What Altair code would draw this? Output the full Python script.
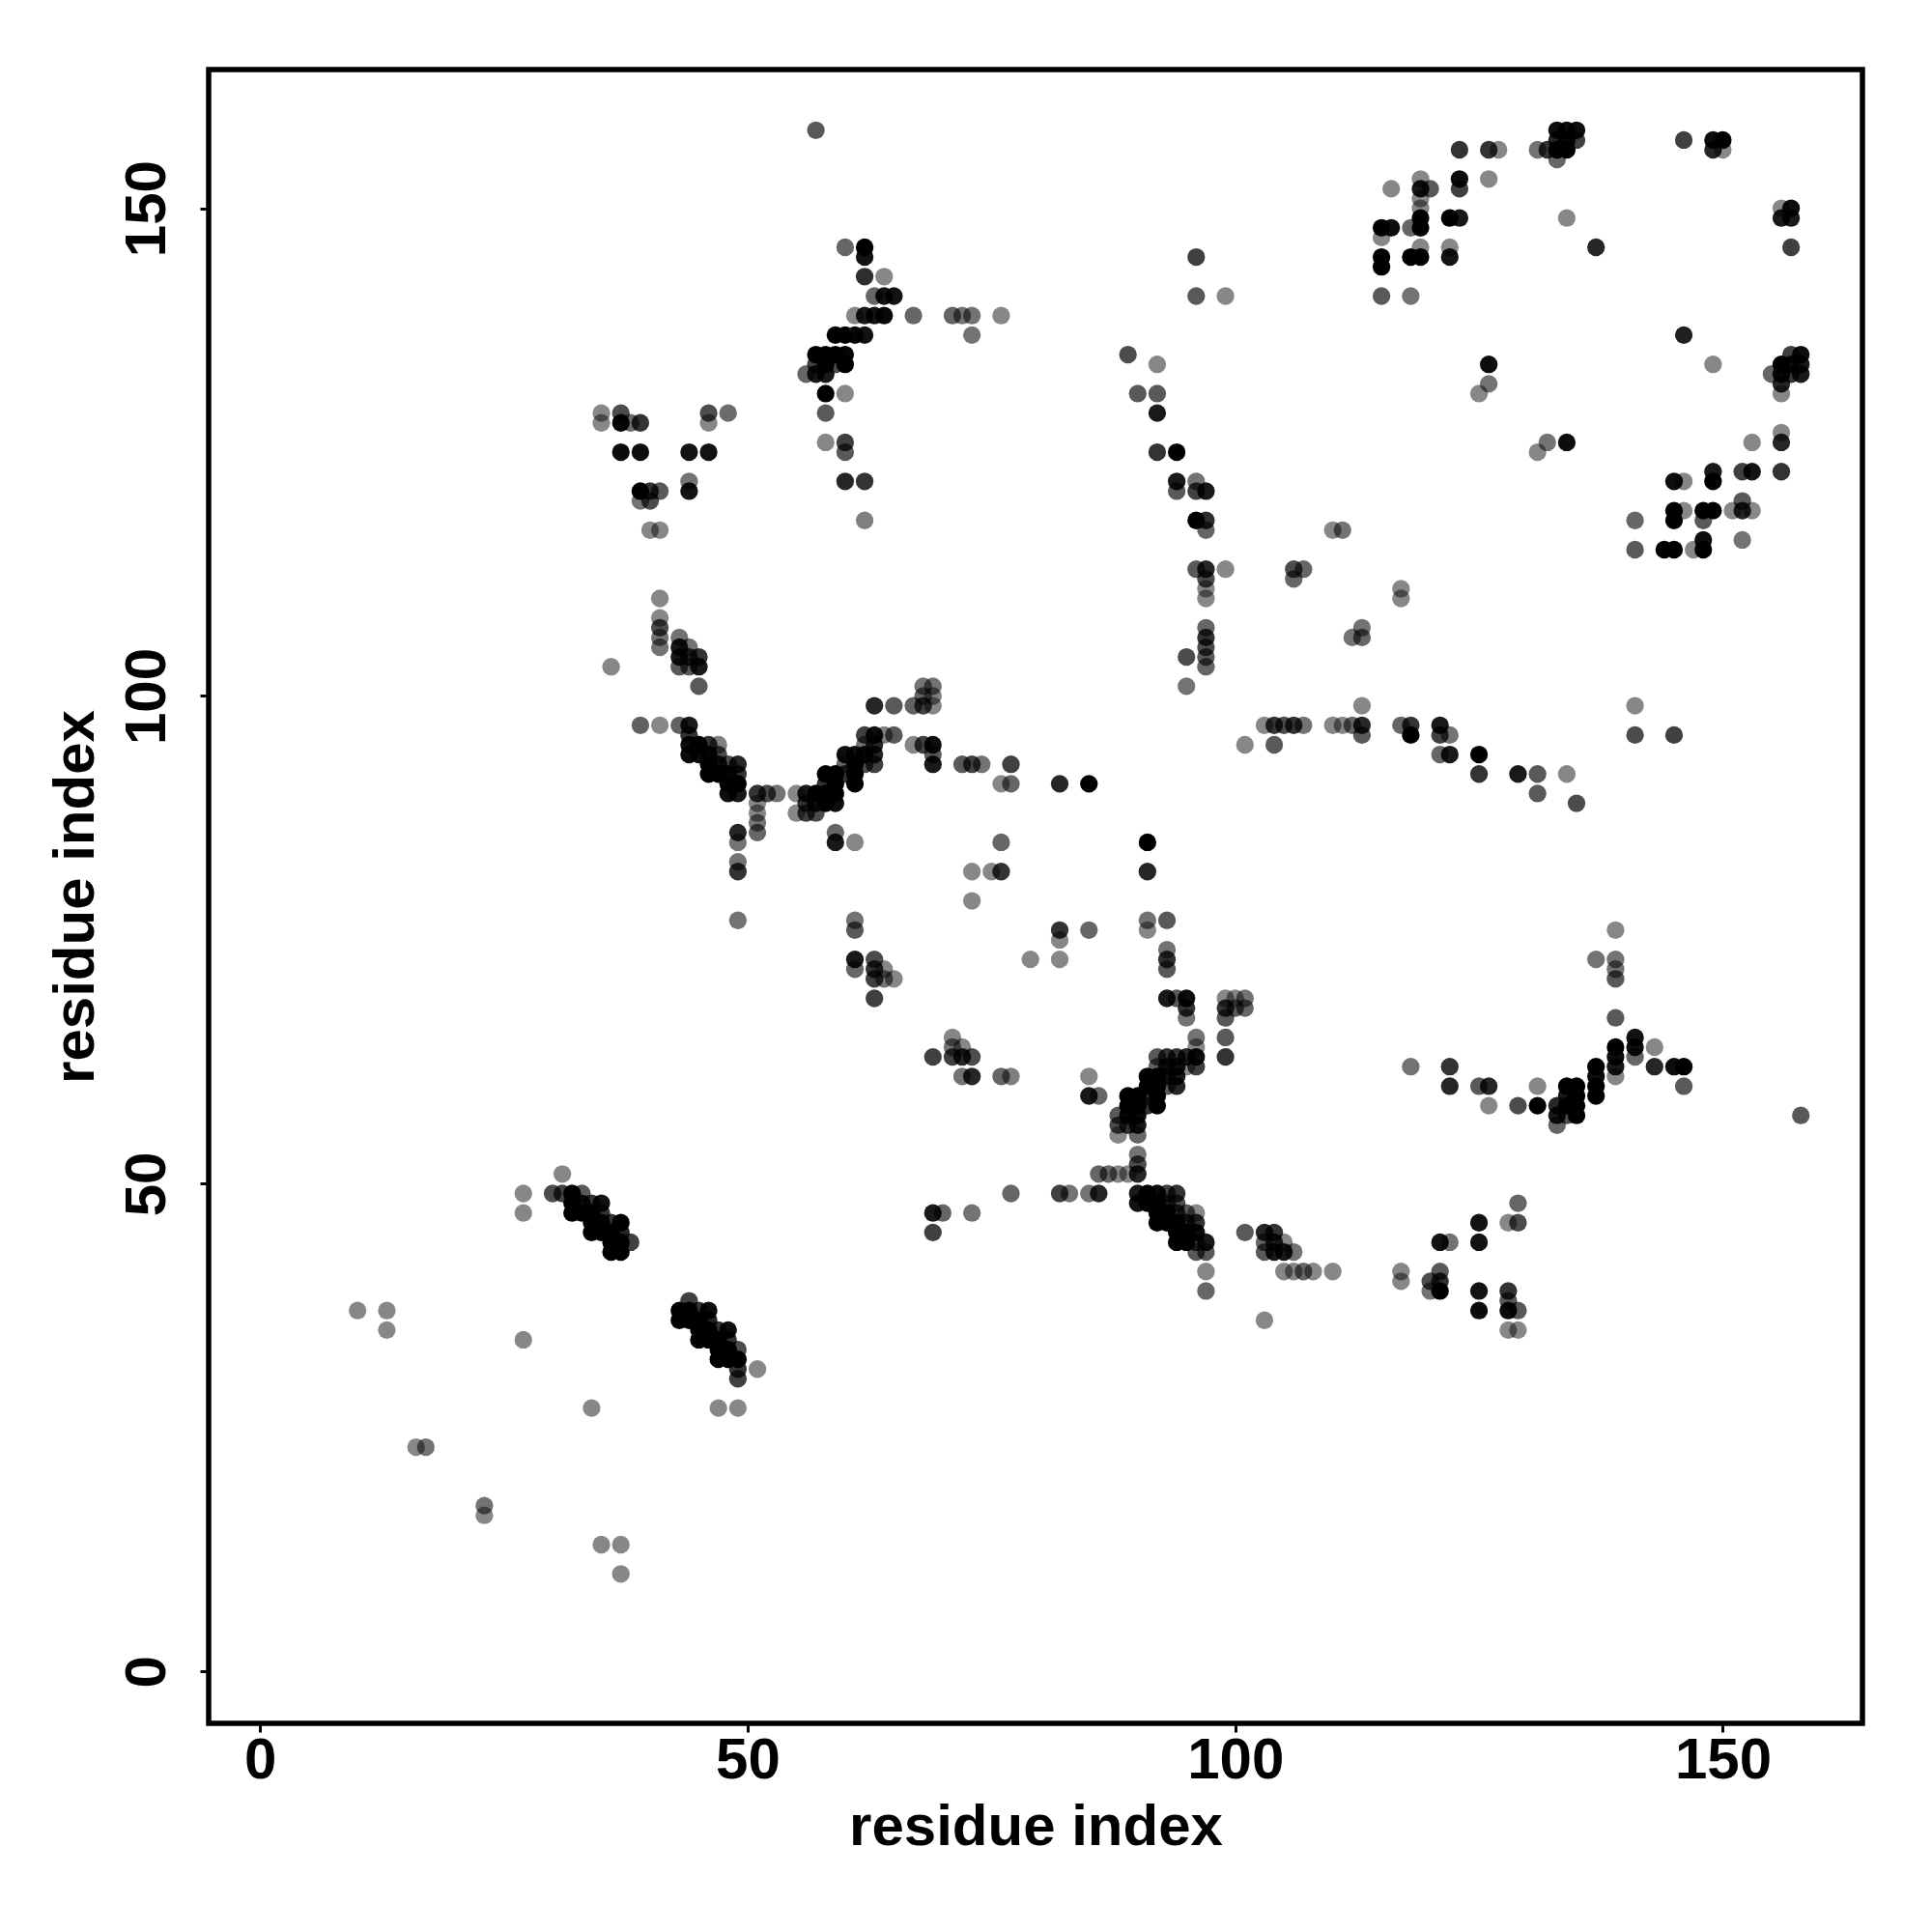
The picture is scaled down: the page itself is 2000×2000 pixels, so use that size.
import altair as alt
import pandas as pd

L = 0.47
top_left = [(35,128,L),(35,129,L),(37,128,.98),(37,129,.7),(38,128,.58),(39,128,.8),(37,125,.96),(39,125,.95),(44,125,.93),(46,125,.93),
            (40,120,.7),(39,120,.55),(39,121,1),(40,121,.8),(41,121,.65),(44,121,.92),(44,122,.55),(40,117,L),(41,117,L),(46,128,L),(46,129,.7),(48,129,.58)]
mid_left_column = [(36,103,L),(41,105,.55),(41,106,.55),(41,107,.7),(41,108,L),(41,110,L),(43,103,.65),(43,104,.9),(43,105,.9),(43,106,.55),
                   (44,103,.65),(44,104,.8),(44,105,.55),(45,103,.9),(45,104,.8),(45,101,.65)]
arm_left = [(39,97,.62),(41,97,L),(43,97,.62),(44,97,.9),(44,96,.8),(44,95,.95),(44,94,.96),(45,95,1),(45,94,.95),(46,94,.95),(46,93,1),(46,92,1),(46,95,.8),
            (47,92,1),(47,93,.9),(47,94,.7),(47,95,.5),(48,90,.95),(48,91,1),(48,92,.95),(48,93,.7),(49,90,.9),(49,91,1),(49,92,.8),(49,93,.85),
            (51,86,.6),(51,87,.55),(51,88,L),(51,89,L),(51,90,.8),(52,90,.7),(53,90,.55),
            (49,85,.55),(49,86,.85),(49,82,.8),(49,83,.55),(49,77,.55)]
arm_right = [(55,88,L),(55,90,L),(56,88,.75),(56,89,.8),(56,90,.9),(57,88,.7),(57,89,.9),(57,90,1),(58,89,1),(58,90,1),(58,91,.8),(58,92,1),
             (59,89,.95),(59,90,1),(59,91,1),(59,92,1),(60,92,.8),(60,93,.6),(60,94,.95),(61,91,1),(61,92,1),(61,93,1),(61,94,.95),
             (62,93,.7),(62,94,.95),(62,95,.55),(62,96,.75),(63,93,.75),(63,94,.85),(63,95,.85),(63,96,.95),(64,96,.5),(65,96,.65),
             (63,99,.85),(65,99,.65),(67,99,.62),(68,99,.75),(68,100,.6),(68,101,.55),(69,99,L),(69,100,.5),(69,101,.55),
             (67,95,L),(68,95,.75),(69,93,.9),(69,94,.65),(69,95,.95),(72,93,.65),(73,93,.75),(74,93,.55),(77,93,.75),(76,91,L),(77,91,.6),
             (59,85,.9),(59,86,.6),(61,85,L),(76,85,.6),(73,82,L),(75,82,L),(76,82,.8),(73,79,L),(61,76,.65),(61,77,.55)]
upper_arc = [(57,158,.65),(60,146,.6),(62,145,.93),(62,146,1),(62,143,.82),(64,143,L),(63,141,.6),(64,141,.93),(65,141,.93),(61,139,L),(62,139,.9),(63,139,.93),(64,139,.97),
             (67,139,.6),(71,139,.6),(72,139,.55),(73,139,.55),(76,139,L),(73,137,.55),(59,137,1),(60,137,1),(61,137,.98),(62,137,.93),
             (56,133,.6),(57,133,.9),(58,133,.9),(57,134,.75),(58,134,1),(59,134,.7),(60,134,1),(57,135,1),(58,135,1),(59,135,1),(60,135,.98),
             (58,131,1),(60,131,L),(58,129,.65),(58,126,L),(60,125,.65),(60,126,.75),(60,122,.85),(62,122,.8),(62,118,.5)]
column_97 = [(96,145,.75),(96,141,.65),(99,141,L),(89,135,.7),(92,134,L),(90,131,.65),(92,131,.65),(92,129,.9),(92,125,.8),(94,125,1),
             (94,121,.65),(94,122,.9),(96,121,.75),(96,122,.55),(97,121,.9),(96,118,1),(97,117,.6),(97,118,.82),(96,113,.65),(97,110,L),(97,111,L),(97,112,.7),(97,113,.85),(99,113,L),
             (97,103,.6),(97,104,.65),(97,105,.7),(97,106,.8),(97,107,.6),(95,104,.7),(95,101,.55)]
horizontal_97 = [(113,99,L),(141,99,L),(103,97,L),(104,97,.8),(105,97,.7),(106,97,.8),(107,97,.55),(110,97,L),(111,97,L),(112,97,.6),(113,96,.65),(113,97,.85),
                 (117,97,.6),(118,96,1),(118,97,.8),(121,96,.75),(121,97,.9),(122,96,.55),(141,96,.7),(145,96,.75),(101,95,L),(104,95,.65),
                 (121,94,.6),(122,94,.9),(125,94,1),(125,92,.8),(129,92,.9),(131,92,.65),(134,92,L),(82,91,.85),(85,91,1),(131,90,.65),(135,89,.7),
                 (91,85,1),(91,82,.85)]
low_mid = [(91,76,L),(91,77,.55),(93,77,.65),(82,75,L),(82,76,.8),(85,76,.6),(82,73,L),(79,73,L),(93,72,.65),(93,73,.8),(93,74,.55),
           (93,69,.9),(94,69,.65),(95,69,.95),(95,67,.55),(95,68,.8),(99,67,.65),(99,68,.8),(100,68,.65),(101,68,.6),(99,69,L),(100,69,L),(101,69,.55),(99,65,.65),(99,63,.8),
           (61,72,.6),(61,73,.9),(63,71,.75),(63,72,.8),(63,73,.7),(64,71,.55),(64,72,L),(65,71,L),(63,69,.75),
           (71,63,.75),(71,64,.55),(71,65,L),(72,63,.85),(72,64,L),(69,63,.75),(73,63,.7),(72,61,.55),(73,61,.85),(76,61,.6),(77,61,.5),
           (69,47,.9),(70,47,.6),(73,47,.55),(69,45,.75),(77,49,.6)]
lower_right_arm = [(137,59,1),(137,60,1),(137,61,.95),(137,62,1),(133,56,.6),(134,57,.7),(133,57,.9),(135,57,1),(133,58,.85),(134,58,1),(135,58,1),(134,59,.9),(135,59,1),(134,60,1),(135,60,1),
                   (139,61,L),(139,62,.9),(139,63,.95),(139,64,1),(141,63,.6),(141,64,.95),(141,65,.93),(143,64,L),(143,62,.85),(145,62,.95),(146,62,1),(146,60,.65),
                   (139,67,.65),(139,71,.65),(139,72,.55),(139,73,.55),(137,73,.55),(139,76,L),
                   (131,60,L),(131,58,1),(129,58,.7),(126,58,L),(125,60,.65),(126,60,.85),(122,60,.85),(122,62,.8),(118,62,.55),(158,57,.65)]
lower_small = [(129,48,.6),(128,46,L),(129,46,.7),(125,46,.93),(125,44,.93),(121,44,.93),(122,44,.55),(117,40,L),(117,41,L),(120,39,.55),(120,40,.7),(121,39,1),(121,40,.8),(121,41,.65),
               (125,39,.93),(125,37,.96),(128,39,.8),(128,38,.65),(128,37,.95),(129,37,.65),(128,35,L),(129,35,L)]
center_x = [(96,65,.55),(96,64,L),(92,62,.6),(93,62,.9),(94,62,.9),(96,62,.75),(92,63,.65),(93,63,.8),(94,63,.8),(95,63,.85),(96,63,.95),(95,62,L),
            (91,60,1),(92,60,1),(93,60,.65),(94,60,.85),(91,61,1),(92,61,1),(93,61,.85),(94,61,.9),(88,55,L),(90,55,.6),(88,56,.7),(89,56,.8),(90,56,.9),(88,57,.65),(89,57,.95),(90,57,.95),
            (89,58,1),(90,58,1),(91,58,.8),(92,58,1),(89,59,1),(90,59,1),(91,59,.7),(92,59,1),(85,61,L),(85,59,.9),(86,59,.6),
            (86,51,.6),(87,51,.6),(88,51,L),(89,51,L),(90,51,.85),(90,52,.7),(90,53,.55),(82,49,.75),(83,49,.55),(85,49,.55),(86,49,.85),
            (92,46,1),(93,46,1),(94,46,1),(95,46,.85),(92,47,1),(93,47,1),(94,47,.8),(90,48,.93),(91,48,1),(92,48,1),(93,48,.8),(94,48,.7),(90,49,.9),(91,49,1),(92,49,.95),(93,49,.75),(94,49,.8),(95,47,.65),(96,47,L),
            (94,44,1),(95,44,1),(94,45,1),(95,45,1),(96,43,.65),(96,44,.75),(96,45,.95),(96,46,.8),(97,43,.65),(97,44,.9),(97,41,L),(97,39,.6),
            (101,45,.65),(103,43,.65),(104,43,.9),(105,43,.9),(103,44,.6),(104,44,.85),(103,45,.85),(104,45,.8),(105,44,L),(106,43,.55),(105,41,L),(106,41,L),(107,41,.6),(108,41,L),(110,41,L),(103,36,L)]
far_lower_left = [(10,37,L),(13,37,L),(13,35,L),(27,34,L),(27,47,L),(27,49,L),(31,51,L),(16,23,L),(17,23,.55),(23,16,L),(23,17,.55),(34,27,L),(35,13,L),(37,13,L),(37,10,L),(47,27,L),(49,27,L),(51,31,L)]
diagonal_a = [(30,49,.7),(31,49,.75),(32,47,1),(33,47,1),(34,45,1),(34,46,1),(35,45,1),(35,46,1),(34,47,1),(32,48,1),(33,48,.9),(32,49,1),(33,49,.65),(34,48,.8),(35,47,.8),(35,48,.93),(36,43,1),(37,43,1),(36,44,1),(37,44,1),(36,45,1),(36,46,.8),(37,45,.85),(37,46,1),(38,44,.75)]
diagonal_b = [(43,36,1),(44,36,1),(43,37,1),(44,37,1),(45,34,1),(46,34,1),(45,35,1),(46,35,1),(45,36,1),(46,36,.85),(45,37,.8),(46,37,.95),(44,38,.75),(47,32,1),(48,32,1),(47,33,1),(48,33,1),(47,34,1),(47,35,.8),(48,34,.8),(48,35,.95),(49,30,.75),(49,31,.8),(49,32,1),(49,33,.7)]
top_right_arc = [(115,144,1),(115,145,1),(115,148,1),(116,148,.95),(115,147,L),(115,141,.65),(118,141,.55),(118,145,1),(119,145,1),(119,146,L),(122,146,L),(122,145,.92),
                 (118,148,.6),(119,148,1),(119,149,1),(119,150,L),(122,149,1),(123,149,.9),(116,152,L),(119,151,L),(119,152,.9),(120,152,.65),(119,153,L),(123,152,.75),(123,153,.95),(126,153,L),
                 (123,156,.8),(126,156,.8),(127,156,L),(131,156,.55),(132,156,.8),(133,155,.6),(133,156,1),(134,156,1),(133,157,.85),(134,157,.95),(135,157,.75),(133,158,.95),(134,158,.95),(135,158,.95),
                 (134,149,L),(137,146,.85),(146,157,.75),(149,156,.85),(150,156,L),(149,157,.95),(150,157,1),(156,149,.9),(156,150,L),(157,149,.9),(157,150,.95),(157,146,.75),
                 (126,134,.95),(126,132,.55),(125,131,L),(146,137,.88),(149,134,L)]
right_cluster = [(155,133,.6),(156,131,L),(156,132,.85),(156,133,.95),(156,134,1),(157,133,.8),(157,134,.9),(158,133,.9),(157,135,.75),(158,134,.9),(158,135,.95),
                 (131,125,L),(132,126,.55),(134,126,.95),(156,123,.8),(156,126,.85),(156,127,L),(153,126,L),(152,123,.75),(153,123,.92),(149,122,1),(149,123,.9),(145,122,.95),(146,122,L),
                 (145,118,1),(145,119,1),(146,119,L),(148,118,.65),(148,119,1),(149,119,1),(151,119,L),(152,119,.85),(152,120,.65),(153,119,L),(141,118,.6),(141,115,.65),(144,115,1),(145,115,1),(147,115,L),(148,115,1),(148,116,.95),(152,116,.55),
                 (110,117,L),(111,117,.55),(106,113,.7),(107,113,.6),(106,112,.6),(117,111,L),(117,110,L),(112,106,.55),(113,106,.6),(113,107,.55)]

clusters = [top_left, mid_left_column, arm_left, arm_right, upper_arc, column_97, horizontal_97, low_mid, lower_right_arm,
            lower_small, center_x, far_lower_left, diagonal_a, diagonal_b, top_right_arc, right_cluster]
rows = [p for c in clusters for p in c]
df = pd.DataFrame(rows, columns=["x", "y", "shade"])

axis_common = dict(domain=False, grid=False, values=[0, 50, 100, 150], format="d", tickColor="black", tickWidth=3, tickSize=9,
                   labelColor="black", labelFont="Liberation Sans", labelFontWeight="bold", labelFontSize=60,
                   titleColor="black", titleFont="Liberation Sans", titleFontWeight="bold", titleFontSize=60)

chart = alt.Chart(df).mark_circle(size=335, color="black", strokeWidth=0).encode(
    x=alt.X("x:Q", scale=alt.Scale(domain=[-5.27, 164.32], nice=False, zero=False),
            axis=alt.Axis(title="residue index", labelPadding=0, titlePadding=10, **axis_common)),
    y=alt.Y("y:Q", scale=alt.Scale(domain=[-5.32, 164.22], nice=False, zero=False),
            axis=alt.Axis(title="residue index", labelAngle=270, labelAlign="center", labelBaseline="bottom", labelPadding=24, titlePadding=13, **axis_common)),
    opacity=alt.Opacity("shade:Q", scale=None, legend=None),
).properties(
    width=1712, height=1712,
    background="white",
    autosize=alt.AutoSizeParams(type="none"),
    padding={"left": 208, "top": 64, "right": 60, "bottom": 200},
).configure_view(stroke="black", strokeWidth=5.5, fill="white")

chart.save("out.html", embed_options={"renderer": "svg", "actions": False})
